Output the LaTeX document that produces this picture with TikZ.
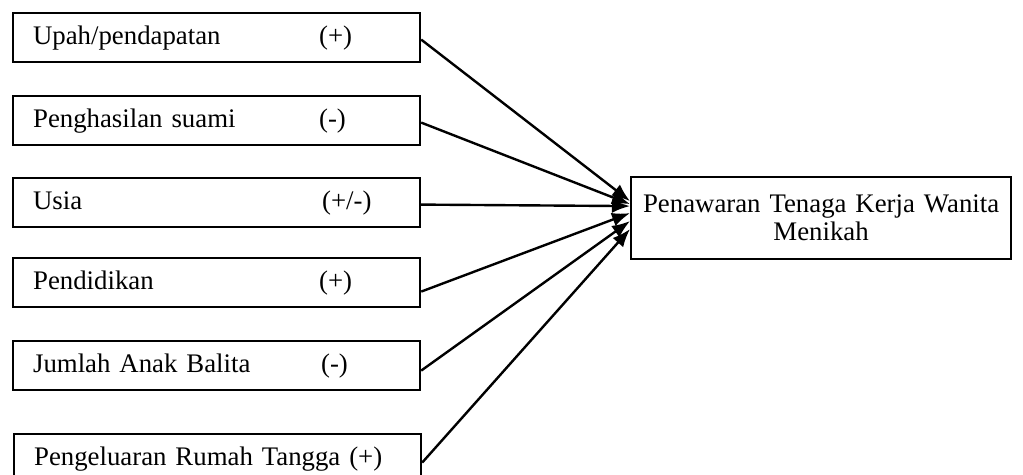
\documentclass[tikz,border=0pt]{standalone}
\usepackage{fontspec}
\setmainfont{Liberation Serif}
\usetikzlibrary{arrows.meta}
\begin{document}
\begin{tikzpicture}[x=.5pt,y=-.5pt,every node/.style={font=\fontsize{13.4}{14}\selectfont},
	faktor/.style={draw,line width=1.1pt,anchor=north west,minimum height=24.5pt,text width=183.5pt,inner xsep=10pt,align=left},
	tujuan/.style={draw,line width=1.1pt,anchor=north west,minimum height=41pt,text width=180pt,inner xsep=5pt,align=center},
	panah/.style={line width=1.2pt,-{Latex[length=9pt,width=7pt]}}]
		\useasboundingbox(0,0)rectangle(1023,475);
		\coordinate(P1)at(12,12);
		\coordinate(P2)at(12,95);
		\coordinate(P3)at(12,177);
		\coordinate(P4)at(12,257);
		\coordinate(P5)at(12,340);
		\coordinate(P6)at(13,433);
		\coordinate(T)at(630,176);
		\node[faktor](upah)at(P1){\makebox[143pt][l]{Upah/pendapatan}(+)};
		\node[faktor](suami)at(P2){\makebox[143pt][l]{Penghasilan suami}(-)};
		\node[faktor](usia)at(P3){\makebox[144.5pt][l]{Usia}(+/-)};
		\node[faktor](didik)at(P4){\makebox[143pt][l]{Pendidikan}(+)};
		\node[faktor](balita)at(P5){\makebox[144pt][l]{Jumlah Anak Balita}(-)};
		\node[faktor](keluar)at(P6){Pengeluaran Rumah Tangga (+)};
		\node[tujuan](tkw)at(T){Penawaran Tenaga Kerja Wanita\\Menikah};
		\foreach\b/\s/\e in{upah/-1/8.5,suami/-1/7,usia/-1/6,didik/-4.5/2.5,balita/-2.5/-1.5,keluar/-2/-5.5}{\draw[panah]([yshift=\s pt]\b.east)--([yshift=\e pt]tkw.west);}
		\end{tikzpicture}
\end{document}
